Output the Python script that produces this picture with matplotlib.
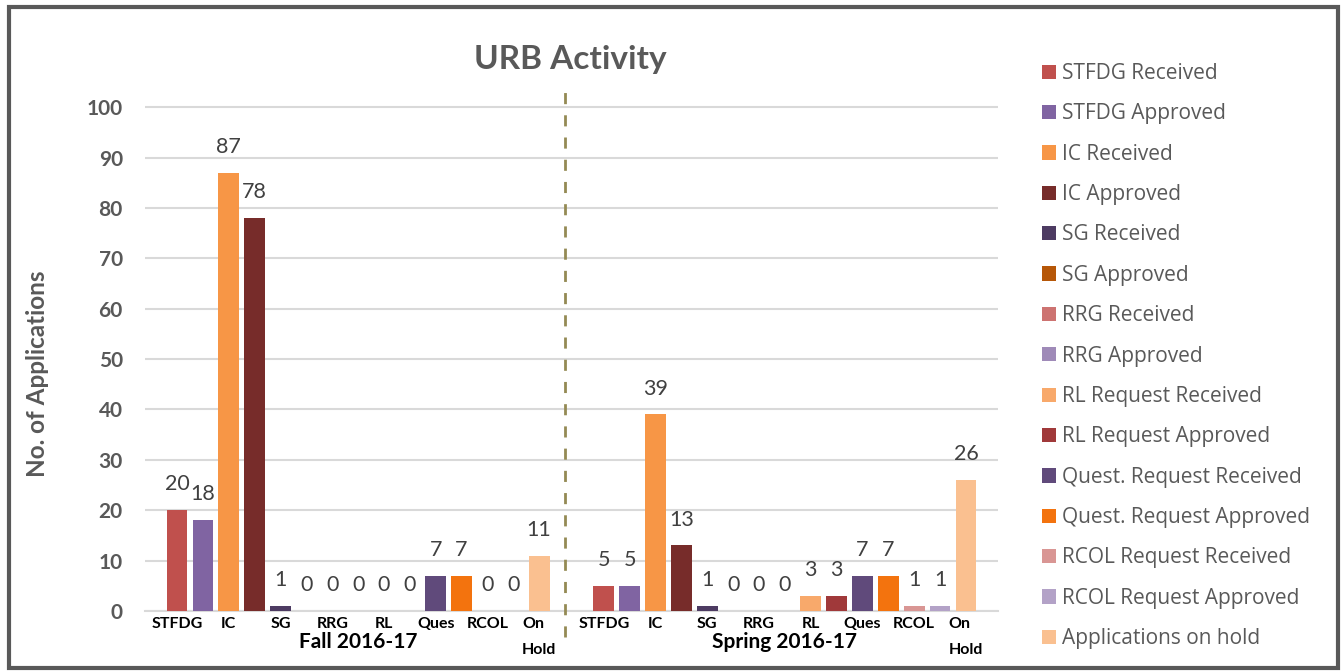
import matplotlib.pyplot as plt
from matplotlib.patches import Rectangle


SERIES = ["STFDG Received", "STFDG Approved", "IC Received", "IC Approved",
          "SG Received", "SG Approved", "RRG Received", "RRG Approved",
          "RL Request Received", "RL Request Approved",
          "Quest. Request Received", "Quest. Request Approved",
          "RCOL Request Received", "RCOL Request Approved", "Applications on hold"]
COLORS = ["#C0504D", "#8064A2", "#F79646", "#772C2A", "#4D3B62", "#B65708",
          "#CD7371", "#9F8AB8", "#F8A96B", "#A0393A", "#604A7B", "#F3730E",
          "#D99694", "#B3A2C7", "#FAC090"]
FALL = [20, 18, 87, 78, 1, 0, 0, 0, 0, 0, 7, 7, 0, 0, 11]
SPRING = [5, 5, 39, 13, 1, 0, 0, 0, 3, 3, 7, 7, 1, 1, 26]
CATEGORIES = ["STFDG", "IC", "SG", "RRG", "RL", "Ques", "RCOL", "On\n\nHold"]
GROUPS = ["Fall 2016-17", "Spring 2016-17"]

GROUP_START = [0, 16.5]
DIVIDER = 15
GRAY = "#595959"

plt.rcParams["font.family"] = ["Lato", "DejaVu Sans"]

fig = plt.figure(figsize=(13.44, 6.71), dpi=100)
ax = fig.add_axes([145 / 1344, 1 - 611 / 671, 853 / 1344, 522 / 671])

for k, (name, color) in enumerate(zip(SERIES, COLORS)):
    xs = [GROUP_START[0] + k, GROUP_START[1] + k]
    vals = [FALL[k], SPRING[k]]
    ax.bar(xs, vals, width=0.8, color=color, label=name, zorder=3)
    for x, v in zip(xs, vals):
        ax.annotate(str(v), (x, v), xytext=(0, 18.7), textcoords="offset points",
                    ha="center", va="center", fontsize=15.5, color="#404040")

ax.set_xlim(-1.24, 31.74)
ax.set_ylim(0, 103.6)
ax.set_yticks(range(0, 101, 10))
ax.yaxis.grid(True, color="#d9d9d9", linewidth=1.5, zorder=0)
for s in ["top", "right", "left"]:
    ax.spines[s].set_visible(False)
ax.spines["bottom"].set_color("#d9d9d9")
ax.spines["bottom"].set_linewidth(1.5)
ax.tick_params(axis="y", length=0, pad=16, labelsize=15, labelcolor=GRAY)
for t in ax.get_yticklabels():
    t.set_fontweight("bold")

ticks = []
labels = []
for g in GROUP_START:
    for i, c in enumerate(CATEGORIES):
        ticks.append(g + 2 * i)
        labels.append(c)
ax.set_xticks(ticks)
ax.set_xticklabels(labels, fontsize=11.5, fontweight="bold", color="black", linespacing=0.95)
for t in ax.get_xticklabels():
    t.set_multialignment("left")
ax.tick_params(axis="x", length=0, pad=4)

for g, name in zip(GROUP_START, GROUPS):
    ax.text(g + 7, -6.2, name, ha="center", va="center", fontsize=15,
            fontweight="bold", color="black")

ax.plot([DIVIDER, DIVIDER], [-5.2, 103.6], linestyle=(0, (4, 4)), color="#948A54",
        linewidth=2, clip_on=False, zorder=4)

ax.set_ylabel("No. of Applications", fontsize=17.5, fontweight="bold", color=GRAY)
ax.yaxis.set_label_coords(-0.113, 0.454)

fig.text(570 / 1344, 1 - 60 / 671, "URB Activity", ha="center", va="center",
         fontsize=24, fontweight="bold", color=GRAY)

fig.legend(loc="upper left", bbox_to_anchor=(1042 / 1344, 1 - 63 / 671),
           bbox_transform=fig.transFigure, frameon=False, borderpad=0, borderaxespad=0,
           handlelength=0.68, handleheight=0.68, handletextpad=0.3, labelspacing=0.93,
           prop={"family": "Open Sans", "size": 15}, labelcolor=GRAY)

fig.patches.append(Rectangle((9 / 1344, 1 - 668 / 671), 1329 / 1344, 661 / 671,
                             transform=fig.transFigure, fill=False,
                             edgecolor=GRAY, linewidth=3))

fig.savefig("out.png", dpi=100)
